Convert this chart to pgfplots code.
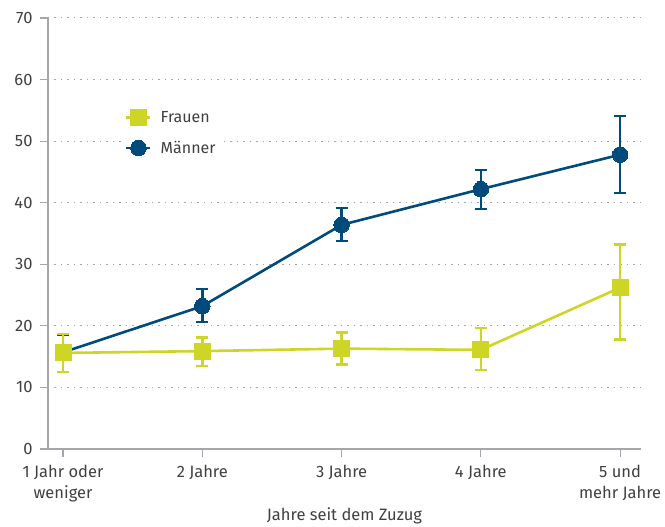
\documentclass[border=0pt]{standalone}
\usepackage{pgfplots}
\pgfplotsset{compat=1.18}
\usepackage{fontspec}
\setmainfont{Fira Sans}
\definecolor{frauen}{RGB}{205,214,38}
\definecolor{maenner}{RGB}{0,74,124}
\definecolor{axgray}{RGB}{165,165,170}
\definecolor{txt}{RGB}{64,64,64}
\begin{document}
\begin{tikzpicture}
\begin{axis}[
  scale only axis, width=593pt, height=431pt,
  xmin=-0.108, xmax=4.15, ymin=0, ymax=70,
  axis x line*=bottom, axis y line*=left,
  axis line style={axgray, line width=1.2pt, -},
  tick style={axgray, line width=1.2pt},
  tick align=outside, major tick length=8pt,
  xtick={0,1,2,3,4},
  xticklabels={{1 Jahr oder\\weniger},{2 Jahre},{3 Jahre},{4 Jahre},{5 und\\mehr Jahre}},
  xticklabel style={align=center, font=\fontsize{16.5}{21}\selectfont, text=txt, yshift=-5pt},
  ytick={0,10,...,70},
  yticklabel style={font=\fontsize{16.5}{20}\selectfont, text=txt, xshift=-4pt},
  /pgf/number format/assume math mode=true,
  ymajorgrids, major grid style={axgray, dash pattern=on 1.5pt off 5pt, line width=1pt},
  xlabel={Jahre seit dem Zuzug},
  xlabel style={font=\fontsize{16.5}{20}\selectfont, text=txt, yshift=2pt},
  reverse legend,
  legend style={at={(axis cs:0.43,55.5)}, anchor=north west, draw=none, fill=white,
    font=\fontsize{16}{19}\selectfont, text=txt, row sep=13pt, inner sep=2pt},
  legend cell align=left,
  legend image code/.code={\draw[#1, mark repeat=2, mark phase=2] plot coordinates {(0pt,0pt) (12pt,0pt) (24pt,0pt)}; \path (31pt,0pt);},
  error bars/y dir=both, error bars/y explicit,
]
\addplot+[maenner, line width=2.6pt, mark=*, mark size=7.8pt, mark options={solid, fill=maenner, draw=maenner, line width=0pt},
  error bars/error bar style={maenner, line width=2.4pt}, error bars/error mark options={rotate=90, mark size=6pt, line width=2.4pt, maenner}]
coordinates {
  (0,15.7) += (0,2.8) -= (0,3.2)
  (1,23.2) += (0,2.8) -= (0,2.6)
  (2,36.4) += (0,2.7) -= (0,2.6)
  (3,42.2) += (0,3.1) -= (0,3.2)
  (4,47.8) += (0,6.3) -= (0,6.2)
};
\addlegendentry{Männer}
\addplot+[frauen, line width=2.6pt, mark=square*, mark size=8pt, mark options={solid, fill=frauen, draw=frauen, line width=0pt},
  error bars/error bar style={frauen, line width=2.4pt}, error bars/error mark options={rotate=90, mark size=6pt, line width=2.4pt, frauen}]
coordinates {
  (0,15.6) += (0,3.1) -= (0,3.1)
  (1,15.9) += (0,2.2) -= (0,2.4)
  (2,16.3) += (0,2.6) -= (0,2.6)
  (3,16.1) += (0,3.6) -= (0,3.3)
  (4,26.2) += (0,7.0) -= (0,8.4)
};
\addlegendentry{Frauen}
\end{axis}
\pgfresetboundingbox
\path[use as bounding box] ([shift={(-48pt,-78pt)}]current axis.south west) rectangle ++(665pt,527pt);
\end{tikzpicture}
\end{document}
